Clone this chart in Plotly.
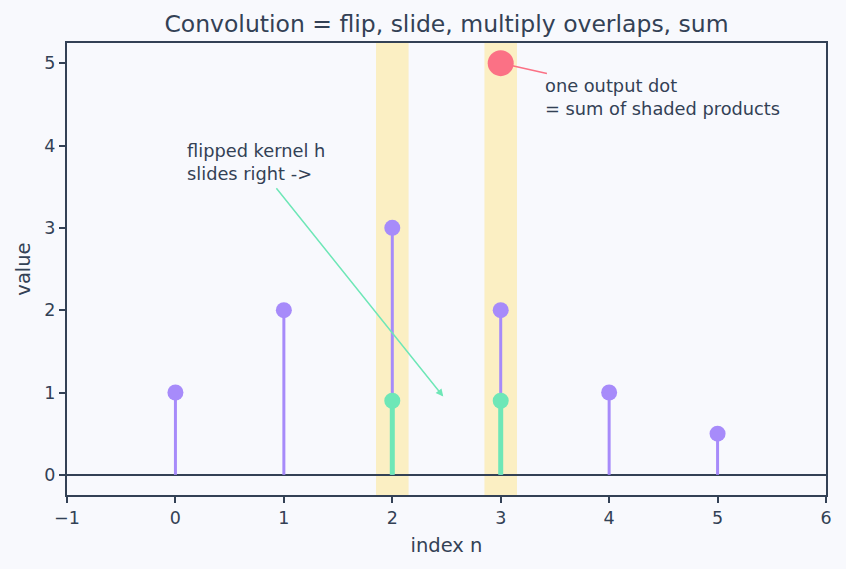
import plotly.graph_objects as go

# data
n_signal = [0, 1, 2, 3, 4, 5]
x_signal = [1, 2, 3, 2, 1, 0.5]
n_overlap = [2, 3]
products = [0.9, 0.9]
out_n = [3]
out_val = [5]
band_half = 0.15

PURPLE = "#a78bfa"
GREEN = "#6ee7b7"
RED = "#fb7185"
TEXT = "#334155"
BAND = "rgba(253, 230, 138, 0.5)"
BG = "#f8f9fd"

def stems(xs, ys):
    sx, sy = [], []
    for a, b in zip(xs, ys):
        sx += [a, a, None]
        sy += [0, b, None]
    return sx, sy

fig = go.Figure()

sx, sy = stems(n_signal, x_signal)
fig.add_trace(go.Scatter(x=sx, y=sy, mode="lines", line=dict(color=PURPLE, width=3),
                         hoverinfo="skip", showlegend=False))
fig.add_trace(go.Scatter(x=n_signal, y=x_signal, mode="markers",
                         marker=dict(color=PURPLE, size=16), showlegend=False))
gx, gy = stems(n_overlap, products)
fig.add_trace(go.Scatter(x=gx, y=gy, mode="lines", line=dict(color=GREEN, width=5),
                         hoverinfo="skip", showlegend=False))
fig.add_trace(go.Scatter(x=n_overlap, y=products, mode="markers",
                         marker=dict(color=GREEN, size=16), showlegend=False))
fig.add_trace(go.Scatter(x=out_n, y=out_val, mode="markers",
                         marker=dict(color=RED, size=26), showlegend=False))

for n in n_overlap:
    fig.add_shape(type="rect", x0=n - band_half, x1=n + band_half, y0=0, y1=1,
                  xref="x", yref="paper", fillcolor=BAND, line_width=0, layer="below")

font = dict(family="DejaVu Sans", size=16, color=TEXT)
ann_font = dict(family="DejaVu Sans", size=17.8, color=TEXT)

fig.add_annotation(x=2.47, y=0.95, ax=0.92, ay=3.5, xref="x", yref="y", axref="x", ayref="y",
                   text="", showarrow=True, arrowhead=2, arrowsize=1, arrowwidth=1.5,
                   arrowcolor=GREEN)
fig.add_annotation(x=0.085, y=3.80, xref="x", yref="y", text="flipped kernel h<br>slides right ->",
                   showarrow=False, xanchor="left", yanchor="middle", align="left", font=ann_font)
fig.add_annotation(x=3, y=5, ax=3.44, ay=4.87, xref="x", yref="y", axref="x", ayref="y",
                   text="", showarrow=True, arrowhead=0, arrowwidth=1.5, arrowcolor=RED,
                   standoff=12)
fig.add_annotation(x=3.39, y=4.59, xref="x", yref="y", text="one output dot<br>= sum of shaded products",
                   showarrow=False, xanchor="left", yanchor="middle", align="left", font=ann_font)

axis_common = dict(showgrid=False, showline=True, linecolor=TEXT, linewidth=2, mirror=True,
                   ticks="outside", tickcolor=TEXT, ticklen=6, tickwidth=1.5,
                   tickfont=dict(family="DejaVu Sans", size=17.5, color=TEXT))

fig.update_layout(
    width=846, height=569,
    margin=dict(l=67, r=20, t=43, b=74),
    paper_bgcolor=BG, plot_bgcolor=BG,
    font=font,
    title=dict(text="Convolution = flip, slide, multiply overlaps, sum", x=0.5, xref="paper",
               xanchor="center", y=0.958, yanchor="middle",
               font=dict(family="DejaVu Sans", size=23.5, color=TEXT)),
    xaxis=dict(range=[-1, 6], dtick=1, zeroline=False,
               title=dict(text="index n", font=dict(family="DejaVu Sans", size=19.5, color=TEXT),
                          standoff=11),
               **axis_common),
    yaxis=dict(range=[-0.245, 5.245], dtick=1, zeroline=True, zerolinecolor=TEXT, zerolinewidth=2,
               title=dict(text="value", font=dict(family="DejaVu Sans", size=19.5, color=TEXT),
                          standoff=9),
               **axis_common),
)

fig.write_html("out.html")
